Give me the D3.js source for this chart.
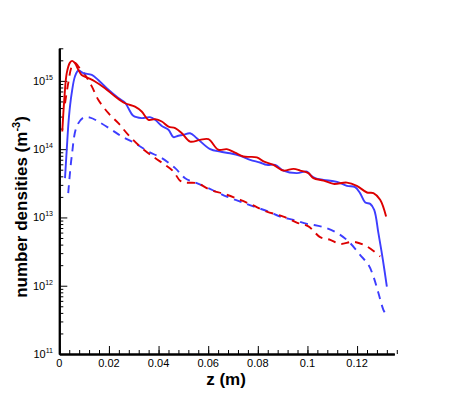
<!DOCTYPE html>
<html>
<head>
<meta charset="utf-8">
<script src="https://cdn.jsdelivr.net/npm/d3@7"></script>
<style>
  body { margin: 0; background: #fff; }
  text { font-family: "Liberation Sans", Arial, sans-serif; }
</style>
</head>
<body>
<script>
// values: z in metres, densities in m^-3

var redSolidZ = [0.0012, 0.0020, 0.0030, 0.0043, 0.0052, 0.0063, 0.0077, 0.0090, 0.0117, 0.0144, 0.0184, 0.0225, 0.0265, 0.0305, 0.0332, 0.0359, 0.0386, 0.0413, 0.0440, 0.0467, 0.0494, 0.0527, 0.0567, 0.0601, 0.0641, 0.0675, 0.0708, 0.0742, 0.0796, 0.0823, 0.0863, 0.0903, 0.0944, 0.0971, 0.1004, 0.1024, 0.1065, 0.1105, 0.1159, 0.1199, 0.1240, 0.1266, 0.1293, 0.1317];
var redSolidN = [1.81e14, 5.27e14, 1.30e15, 1.85e15, 1.96e15, 1.82e15, 1.45e15, 1.22e15, 1.10e15, 9.8e14, 7.8e14, 5.9e14, 4.7e14, 4.2e14, 3.56e14, 2.69e14, 2.75e14, 2.54e14, 2.14e14, 2.03e14, 1.71e14, 1.29e14, 1.37e14, 1.40e14, 9.8e13, 1.0e14, 8.9e13, 7.8e13, 7.6e13, 6.6e13, 5.9e13, 4.86e13, 5.15e13, 4.86e13, 4.46e13, 3.76e13, 3.47e13, 3.10e13, 3.24e13, 2.90e13, 2.32e13, 2.27e13, 1.81e13, 1.03e13];

var blueSolidZ = [0.0023, 0.0030, 0.0039, 0.0050, 0.0063, 0.0077, 0.0097, 0.0131, 0.0157, 0.0198, 0.0238, 0.0265, 0.0278, 0.0298, 0.0332, 0.0365, 0.0386, 0.0413, 0.0440, 0.0460, 0.0480, 0.0500, 0.0527, 0.0554, 0.0608, 0.0648, 0.0688, 0.0729, 0.0769, 0.0809, 0.0836, 0.0870, 0.0903, 0.0957, 0.0998, 0.1011, 0.1031, 0.1065, 0.1119, 0.1159, 0.1192, 0.1212, 0.1233, 0.1253, 0.1269, 0.1286, 0.1304, 0.1320];
var blueSolidN = [3.76e13, 9.8e13, 3.0e14, 6.6e14, 1.16e15, 1.42e15, 1.30e15, 1.22e15, 1.03e15, 7.4e14, 5.6e14, 4.8e14, 4.0e14, 3.08e14, 2.85e14, 2.94e14, 2.69e14, 2.19e14, 1.92e14, 1.50e14, 1.57e14, 1.62e14, 1.71e14, 1.45e14, 1.0e14, 9.2e13, 8.7e13, 7.98e13, 6.97e13, 6.37e13, 5.89e13, 5.89e13, 4.86e13, 4.46e13, 4.70e13, 4.21e13, 3.76e13, 3.55e13, 3.32e13, 2.90e13, 2.78e13, 2.27e13, 1.65e13, 1.58e13, 1.29e13, 5.89e12, 2.39e12, 9.7e11];

var redDashZ = [0.0023, 0.0036, 0.0050, 0.0063, 0.0077, 0.0104, 0.0131, 0.0157, 0.0198, 0.0238, 0.0278, 0.0332, 0.0386, 0.0426, 0.0460, 0.0487, 0.0507, 0.0554, 0.0608, 0.0668, 0.0729, 0.0776, 0.0836, 0.0903, 0.0957, 0.1004, 0.1051, 0.1092, 0.1132, 0.1185, 0.1240, 0.1293];
var redDashN = [4.7e14, 9.25e14, 1.62e15, 1.85e15, 1.62e15, 1.22e15, 8.3e14, 5.3e14, 3.36e14, 2.40e14, 1.62e14, 1.04e14, 7.4e13, 5.9e13, 4.7e13, 3.44e13, 3.24e13, 3.18e13, 2.54e13, 2.19e13, 1.81e13, 1.53e13, 1.22e13, 1.03e13, 8.4e12, 7.4e12, 5.15e12, 4.70e12, 4.10e12, 4.40e12, 3.75e12, 2.68e12];

var blueDashZ = [0.0036, 0.0050, 0.0070, 0.0097, 0.0124, 0.0157, 0.0211, 0.0252, 0.0305, 0.0359, 0.0413, 0.0467, 0.0507, 0.0554, 0.0621, 0.0675, 0.0729, 0.0782, 0.0843, 0.0890, 0.0944, 0.0998, 0.1024, 0.1078, 0.1132, 0.1172, 0.1212, 0.1246, 0.1266, 0.1286, 0.1306, 0.1317];
var blueDashN = [2.27e13, 7.8e13, 2.14e14, 2.90e14, 2.90e14, 2.54e14, 1.92e14, 1.53e14, 1.22e14, 9.2e13, 7.4e13, 5.27e13, 3.76e13, 3.18e13, 2.48e13, 2.02e13, 1.71e13, 1.45e13, 1.22e13, 1.03e13, 9.2e12, 8.05e12, 7.8e12, 6.97e12, 5.56e12, 4.21e12, 2.83e12, 2.02e12, 1.36e12, 7.8e11, 4.44e11, 3.75e11];

var xTicks = [0, 0.02, 0.04, 0.06, 0.08, 0.1, 0.12];
var xTickLabels = ['0', '0.02', '0.04', '0.06', '0.08', '0.1', '0.12'];
var yExponents = [11, 12, 13, 14, 15];

var svg = d3.select('body')
            .append('svg')
            .attr('width', 449)
            .attr('height', 399);

var x = d3.scaleLinear().domain([0, 0.135]).range([59.3, 394.3]);
var y = d3.scaleLog().domain([1e11, 3e15]).range([354, 48.3]);

// axes: ticks point inward
var minorX = d3.range(0, 0.1361, 0.004);
var xAxis = d3.axisBottom(x).tickValues(xTicks).tickSizeInner(-8).tickSizeOuter(0).tickFormat('');
var xMinor = d3.axisBottom(x).tickValues(minorX).tickSizeInner(-4).tickSizeOuter(0).tickFormat('');

var minorY = [];
for (var e = 11; e <= 15; e++) {
  for (var k = 2; k <= 9; k++) {
    if (k * Math.pow(10, e) <= 3e15) minorY.push(k * Math.pow(10, e));
  }
}
var yAxis = d3.axisLeft(y).tickValues(yExponents.map(function (d) { return Math.pow(10, d); }))
              .tickSizeInner(-8).tickSizeOuter(0).tickFormat('');
var yMinor = d3.axisLeft(y).tickValues(minorY).tickSizeInner(-4).tickSizeOuter(0).tickFormat('');

[[xMinor, 'x'], [xAxis, 'x'], [yMinor, 'y'], [yAxis, 'y']].forEach(function (a) {
  var g = svg.append('g')
     .attr('transform', a[1] === 'x' ? 'translate(0,354)' : 'translate(59.3,0)')
     .call(a[0]);
  g.selectAll('path').attr('stroke', '#000').attr('stroke-width', 2);
  g.selectAll('line').attr('stroke', '#000').attr('stroke-width', 1);
});

// x tick labels
svg.append('g').selectAll('text')
   .data(xTicks)
   .enter()
   .append('text')
   .attr('x', function (d) { return x(d); })
   .attr('y', 367)
   .attr('text-anchor', 'middle')
   .attr('font-size', 11)
   .text(function (d, i) { return xTickLabels[i]; });

// y tick labels 10^n
var yl = svg.append('g').selectAll('text')
   .data(yExponents)
   .enter()
   .append('text')
   .attr('x', 53)
   .attr('y', function (d) { return y(Math.pow(10, d)) + 4; })
   .attr('text-anchor', 'end')
   .attr('font-size', 11);
yl.append('tspan').text('10');
yl.append('tspan').attr('dy', -5).attr('font-size', 7).text(function (d) { return d; });

// axis titles
svg.append('text')
   .attr('x', 226)
   .attr('y', 385)
   .attr('text-anchor', 'middle')
   .attr('font-size', 17)
   .attr('font-weight', 'bold')
   .text('z (m)');

var yt = svg.append('text')
   .attr('transform', 'translate(27,207) rotate(-90)')
   .attr('text-anchor', 'middle')
   .attr('font-size', 17)
   .attr('font-weight', 'bold');
yt.append('tspan').text('number densities (m');
yt.append('tspan').attr('dy', -7).attr('font-size', 11).text('-3');
yt.append('tspan').attr('dy', 7).text(')');

// curves
var line = d3.line()
             .x(function (d) { return x(d[0]); })
             .y(function (d) { return y(d[1]); })
             .curve(d3.curveCatmullRom);

var series = [
  { z: blueDashZ, n: blueDashN, color: '#3d3dff', dash: '8,6' },
  { z: redDashZ, n: redDashN, color: '#dd0000', dash: '8,6' },
  { z: blueSolidZ, n: blueSolidN, color: '#3d3dff', dash: null },
  { z: redSolidZ, n: redSolidN, color: '#dd0000', dash: null }
];

svg.append('g')
   .selectAll('path')
   .data(series)
   .enter()
   .append('path')
   .attr('d', function (s) { return line(d3.zip(s.z, s.n)); })
   .attr('fill', 'none')
   .attr('stroke', function (s) { return s.color; })
   .attr('stroke-width', 1.9)
   .attr('stroke-dasharray', function (s) { return s.dash; });
</script>
</body>
</html>
